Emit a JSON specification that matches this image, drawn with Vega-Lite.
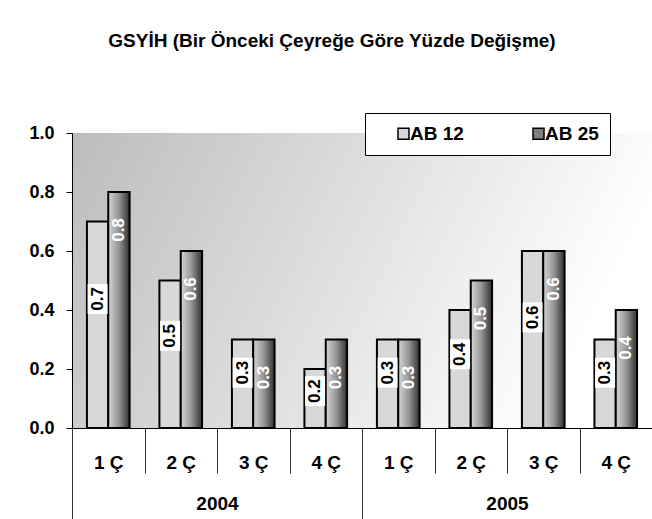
{
  "$schema": "https://vega.github.io/schema/vega-lite/v6.json",
  "autosize": {"type": "none"},
  "padding": {"left": 72, "top": 133, "right": 0, "bottom": 91},
  "width": 580,
  "height": 295,
  "background": "white",
  "title": {
    "text": "GSYİH (Bir Önceki Çeyreğe Göre Yüzde Değişme)",
    "fontSize": 19,
    "fontWeight": "bold",
    "font": "Liberation Sans",
    "color": "black",
    "anchor": "middle",
    "frame": "group",
    "dx": -30,
    "offset": 47,
    "baseline": "alphabetic"
  },
  "data": {
    "values": [
      {"period": "2004 1 Ç", "year": "2004", "series": "AB 12", "value": 0.7},
      {"period": "2004 1 Ç", "year": "2004", "series": "AB 25", "value": 0.8},
      {"period": "2004 2 Ç", "year": "2004", "series": "AB 12", "value": 0.5},
      {"period": "2004 2 Ç", "year": "2004", "series": "AB 25", "value": 0.6},
      {"period": "2004 3 Ç", "year": "2004", "series": "AB 12", "value": 0.3},
      {"period": "2004 3 Ç", "year": "2004", "series": "AB 25", "value": 0.3},
      {"period": "2004 4 Ç", "year": "2004", "series": "AB 12", "value": 0.2},
      {"period": "2004 4 Ç", "year": "2004", "series": "AB 25", "value": 0.3},
      {"period": "2005 1 Ç", "year": "2005", "series": "AB 12", "value": 0.3},
      {"period": "2005 1 Ç", "year": "2005", "series": "AB 25", "value": 0.3},
      {"period": "2005 2 Ç", "year": "2005", "series": "AB 12", "value": 0.4},
      {"period": "2005 2 Ç", "year": "2005", "series": "AB 25", "value": 0.5},
      {"period": "2005 3 Ç", "year": "2005", "series": "AB 12", "value": 0.6},
      {"period": "2005 3 Ç", "year": "2005", "series": "AB 25", "value": 0.6},
      {"period": "2005 4 Ç", "year": "2005", "series": "AB 12", "value": 0.3},
      {"period": "2005 4 Ç", "year": "2005", "series": "AB 25", "value": 0.4}
    ]
  },
  "config": {
    "font": "Liberation Sans",
    "view": {
      "stroke": null,
      "fill": {
        "gradient": "linear", "x1": 0, "y1": 0, "x2": 1, "y2": 0.25,
        "stops": [{"offset": 0, "color": "#bcbcbc"}, {"offset": 1, "color": "#ffffff"}]
      }
    },
    "axis": {
      "labelFont": "Liberation Sans",
      "labelFontWeight": "bold",
      "labelColor": "black",
      "domainColor": "black",
      "tickColor": "#333333",
      "grid": false,
      "title": null
    }
  },
  "resolve": {"scale": {"x": "independent", "y": "independent"}},
  "layer": [
    {
      "resolve": {"scale": {"y": "independent"}},
      "encoding": {
        "x": {
          "field": "period", "type": "nominal", "sort": null,
          "scale": {"paddingInner": 0, "paddingOuter": 0},
          "axis": {
            "orient": "bottom", "tickBand": "extent", "tickSize": 45,
            "labelPadding": -20, "labelExpr": "substring(datum.label, 5)",
            "labelFontSize": 19, "labelAngle": 0, "labelBaseline": "top"
          }
        },
        "xOffset": {
          "field": "series", "type": "nominal",
          "scale": {"domain": ["AB 12", "AB 25"], "paddingInner": 0, "paddingOuter": 0.7}
        }
      },
      "layer": [
        {
          "transform": [{"filter": "datum.series === 'AB 12'"}],
          "mark": {"type": "bar", "stroke": "black", "strokeWidth": 2},
          "encoding": {
            "y": {
              "field": "value", "type": "quantitative",
              "scale": {"domain": [0, 1], "nice": false},
              "axis": {
                "values": [0, 0.2, 0.4, 0.6, 0.8, 1], "format": ".1f",
                "tickSize": 6, "labelPadding": 12, "labelFontSize": 18,
                "tickColor": "black"
              }
            },
            "fill": {
              "field": "series", "type": "nominal",
              "scale": {"domain": ["AB 12", "AB 25"], "range": ["#d8d8d8", "#808080"]},
              "legend": {
                "orient": "none", "legendX": 293, "legendY": -20,
                "direction": "horizontal", "title": null,
                "fillColor": "white", "strokeColor": "black", "padding": 11,
                "symbolType": "square", "symbolSize": 121,
                "symbolOffset": 18, "labelOffset": -3, "columnPadding": 47,
                "labelFontSize": 19, "labelFontWeight": "bold", "labelColor": "black",
                "labelFont": "Liberation Sans",
                "labelExpr": "datum.value === 'AB 25' ? datum.label + '\u00a0\u00a0\u00a0\u00a0\u00a0' : datum.label",
                "encode": {
                  "symbols": {
                    "fill": {
                      "condition": {
                        "test": "datum.value === 'AB 25'",
                        "value": {
                          "gradient": "linear", "x1": 0, "y1": 0, "x2": 1, "y2": 0,
                          "stops": [
                            {"offset": 0, "color": "#d6d6d6"},
                            {"offset": 0.5, "color": "#959595"},
                            {"offset": 1, "color": "#303030"}
                          ]
                        }
                      },
                      "value": "#d8d8d8"
                    },
                    "stroke": {"value": "black"},
                    "strokeWidth": {"value": 1.5},
                    "opacity": {"value": 1},
                    "fillOpacity": {"value": 1}
                  }
                }
              }
            }
          }
        },
        {
          "transform": [{"filter": "datum.series === 'AB 25'"}],
          "mark": {
            "type": "bar", "stroke": "black", "strokeWidth": 2,
            "fill": {
              "gradient": "linear", "x1": 0, "y1": 0, "x2": 1, "y2": 0,
              "stops": [
                {"offset": 0, "color": "#d6d6d6"},
                {"offset": 0.5, "color": "#959595"},
                {"offset": 1, "color": "#303030"}
              ]
            }
          },
          "encoding": {
            "y": {"field": "value", "type": "quantitative", "scale": {"domain": [0, 1], "nice": false}, "axis": null}
          }
        },
        {
          "transform": [{"filter": "datum.series === 'AB 12'"}],
          "mark": {
            "type": "point", "shape": "M-0.667,-1H0.667V1H-0.667Z", "size": 900,
            "filled": true, "fill": "white", "opacity": 1, "strokeWidth": 0
          },
          "encoding": {
            "y": {"field": "value", "type": "quantitative", "scale": {"domain": [0, 1.6], "nice": false}, "axis": null}
          }
        },
        {
          "transform": [{"filter": "datum.series === 'AB 12'"}],
          "mark": {
            "type": "text", "angle": 270, "fontSize": 17, "fontWeight": "bold",
            "font": "Liberation Sans", "fill": "black", "align": "center", "baseline": "middle"
          },
          "encoding": {
            "y": {"field": "value", "type": "quantitative", "scale": {"domain": [0, 1.6], "nice": false}, "axis": null},
            "text": {"field": "value", "type": "quantitative", "format": ".1f"}
          }
        },
        {
          "transform": [{"filter": "datum.series === 'AB 25'"}],
          "mark": {
            "type": "text", "angle": 270, "fontSize": 17, "fontWeight": "bold",
            "font": "Liberation Sans", "fill": "white", "align": "center", "baseline": "middle", "dx": -38
          },
          "encoding": {
            "y": {"field": "value", "type": "quantitative", "scale": {"domain": [0, 1], "nice": false}, "axis": null},
            "text": {"field": "value", "type": "quantitative", "format": ".1f"}
          }
        }
      ]
    },
    {
      "mark": {"type": "point", "opacity": 0},
      "encoding": {
        "x": {
          "field": "year", "type": "nominal", "sort": null,
          "scale": {"paddingInner": 0, "paddingOuter": 0},
          "axis": {
            "orient": "bottom", "tickBand": "extent", "tickSize": 91, "domain": false,
            "labelPadding": -25, "labelFontSize": 19, "labelAngle": 0, "labelBaseline": "top"
          }
        }
      }
    }
  ]
}
